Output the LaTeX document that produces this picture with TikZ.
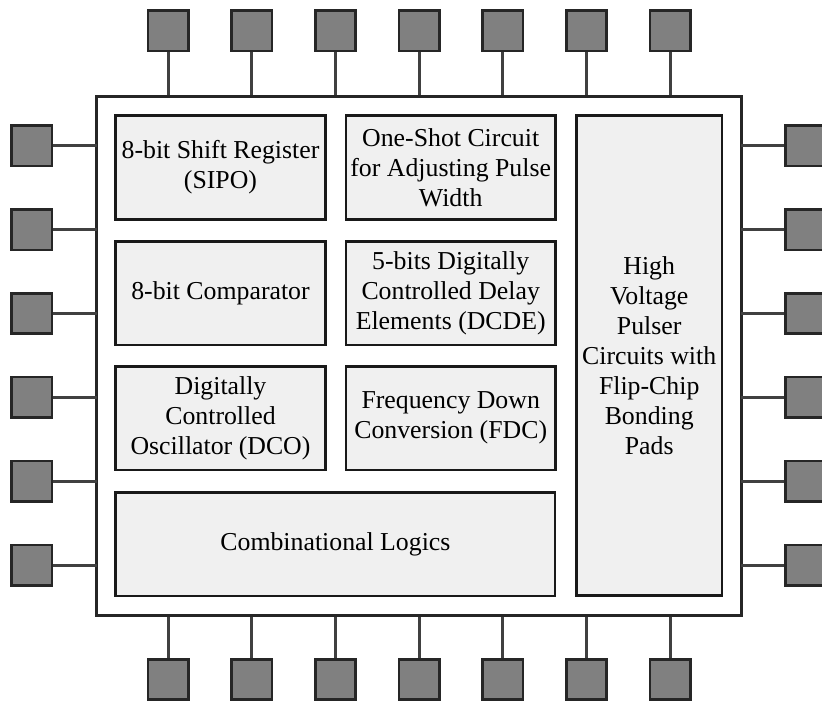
\documentclass[tikz,border=0pt]{standalone}
\usepackage{fontspec}
\setmainfont{Liberation Serif}
\usetikzlibrary{shapes,arrows}
\tikzstyle{block} = [rectangle, draw=black!90, line width=1.4pt, fill=black!6, align=center, inner sep=0pt, font=\rmfamily\fontsize{12.9}{15}\selectfont]
\tikzstyle{chipbox} = [rectangle, draw=black!85, line width=1.5pt, inner sep=0pt, minimum width=322.5pt, minimum height=259.5pt]
\tikzstyle{pad} = [rectangle, draw=black!85, line width=1.3pt, fill=black!50, minimum size=20.2pt, inner sep=0pt]
\tikzstyle{stub} = [draw, black!75, line width=1.5pt]

\begin{document}
\begin{tikzpicture}[x=0.5pt, y=-0.5pt]
\clip (0,0) rectangle (822,704);

\node [chipbox] at (419, 356) (chip) {};

% pads
\foreach \i in {1,...,7} {
  \node [pad] at ({168+83.7*(\i-1)}, 31) (pt\i) {};
  \node [pad] at ({168+83.7*(\i-1)}, 679.5) (pb\i) {};
  \path [stub] (pt\i.south) to (pt\i.south |- chip.north);
  \path [stub] (pb\i.north) to (pb\i.north |- chip.south);
}
\foreach \i in {1,...,6} {
  \node [pad] at (31.7, {146+83.8*(\i-1)}) (pl\i) {};
  \node [pad] at (805.5, {146+83.8*(\i-1)}) (pr\i) {};
  \path [stub] (pl\i.east) to ([xshift=1pt]pl\i.east -| chip.west);
  \path [stub] (pr\i.west) to ([xshift=-1pt]pr\i.west -| chip.east);
}

% blocks
\node [block, minimum width=104.8pt, minimum height=51.8pt] at (220.5, 167.5) (sipo) {8-bit Shift Register\\(SIPO)};
\node [block, minimum width=104.8pt, minimum height=51.8pt] at (450.7, 167.5) (oneshot) {One-Shot Circuit\\for Adjusting Pulse\\Width};
\node [block, minimum width=104.8pt, minimum height=51.8pt] at (220.5, 293.2) (comp) {8-bit Comparator};
\node [block, minimum width=104.8pt, minimum height=51.8pt] at (450.7, 293.2) (dcde) {5-bits Digitally\\Controlled Delay\\Elements (DCDE)};
\node [block, minimum width=104.8pt, minimum height=51.8pt] at (220.5, 418.2) (dco) {Digitally\\Controlled\\Oscillator (DCO)};
\node [block, minimum width=104.8pt, minimum height=51.8pt] at (450.7, 418.2) (fdc) {Frequency Down\\Conversion (FDC)};
\node [block, minimum width=219.6pt, minimum height=51.8pt] at (335.4, 544.2) (logic) {Combinational Logics};
\node [block, minimum width=72.8pt, minimum height=239.8pt] at (649.2, 355.5) (pulser) {High\\Voltage\\Pulser\\Circuits with\\Flip-Chip\\Bonding\\Pads};

\end{tikzpicture}
\end{document}
